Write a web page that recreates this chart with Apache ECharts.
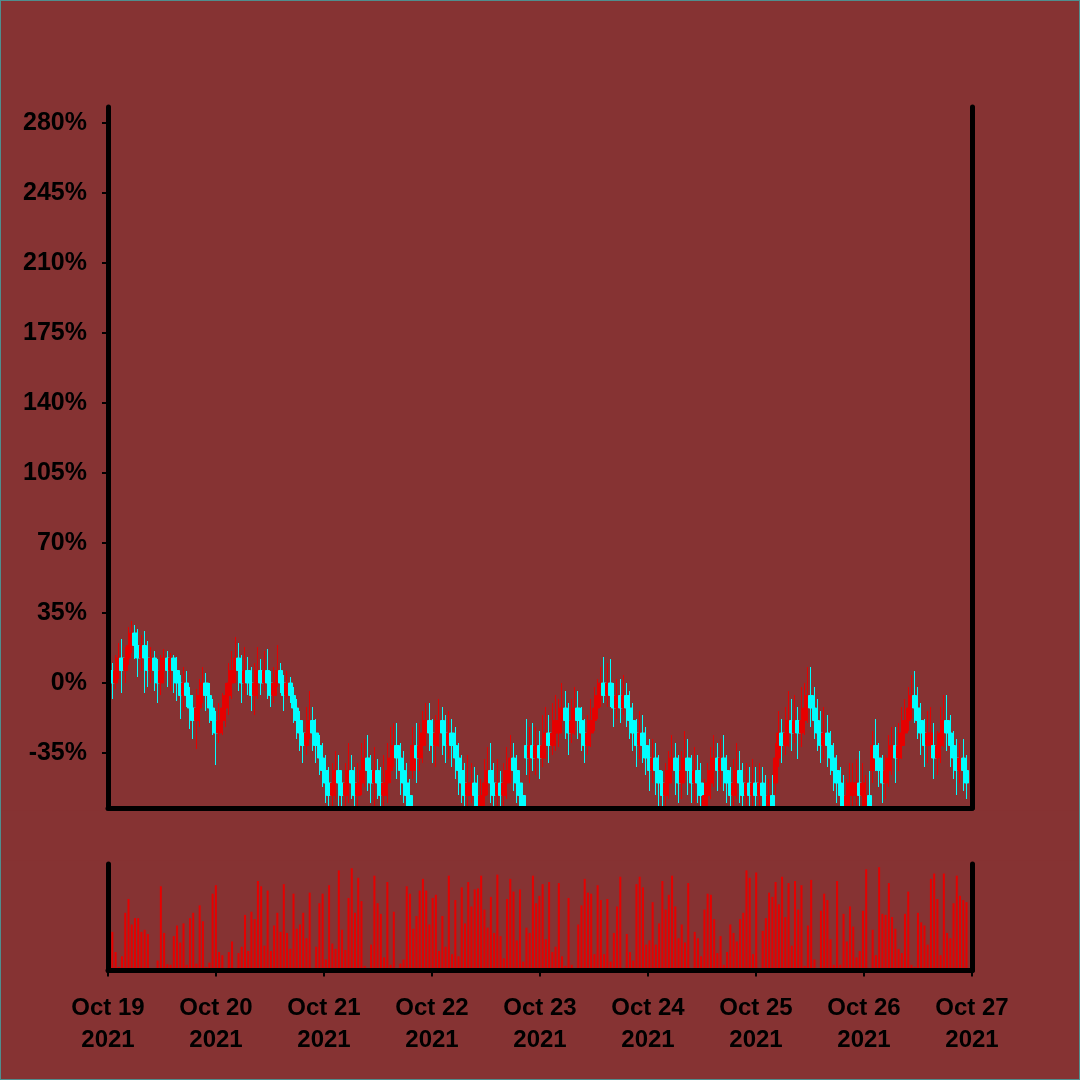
<!DOCTYPE html>
<html><head><meta charset="utf-8">
<script src="https://cdn.jsdelivr.net/npm/echarts@6/dist/echarts.min.js"></script>
<style>html,body{margin:0;padding:0;background:#863333}#c{width:1080px;height:1080px}
#frame{position:absolute;left:0;top:0;width:1078px;height:1078px;border:1px solid #4f8e8e;pointer-events:none}</style>
</head><body><div id="c"></div><div id="frame"></div>
<script>
// ---- data ----
const dayLabels = ['Oct 19','Oct 20','Oct 21','Oct 22','Oct 23','Oct 24','Oct 25','Oct 26','Oct 27'];
const yearLabel = '2021';
const yTickValues = [-35, 0, 35, 70, 105, 140, 175, 210, 245, 280];
const startHour = 0.96;   // first candle, hours after Oct 19 00:00
const stepHour = 0.719;   // candle spacing in hours

const open = [
6.25,0,6.25,12.5,6.25,12.5,18.75,25,18.75,12.5,
18.75,12.5,6.25,12.5,6.25,0,6.25,12.5,6.25,12.5,
6.25,0,-6.25,0,-6.25,-12.5,-18.75,-12.5,-6.25,0,
-6.25,-12.5,-18.75,-25,-18.75,-12.5,-6.25,0,6.25,12.5,
6.25,0,6.25,0,-6.25,0,6.25,0,6.25,0,
-6.25,0,6.25,0,-6.25,0,-6.25,-12.5,-18.75,-25,
-31.25,-25,-18.75,-25,-31.25,-37.5,-43.75,-50,-56.25,-50,
-43.75,-50,-56.25,-50,-43.75,-50,-56.25,-50,-43.75,-37.5,
-43.75,-50,-43.75,-50,-56.25,-50,-43.75,-37.5,-31.25,-37.5,
-43.75,-50,-56.25,-43.75,-31.25,-37.5,-31.25,-25,-18.75,-25,
-31.25,-25,-18.75,-25,-31.25,-25,-31.25,-37.5,-43.75,-50,
-56.25,-56.25,-50,-56.25,-62.5,-56.25,-50,-43.75,-50,-56.25,
-50,-56.25,-50,-43.75,-37.5,-43.75,-50,-56.25,-31.25,-37.5,
-31.25,-37.5,-31.25,-37.5,-31.25,-25,-31.25,-25,-25,-18.75,
-12.5,-18.75,-25,-18.75,-12.5,-18.75,-25,-31.25,-25,-18.75,
-12.5,-6.25,0,-6.25,0,-6.25,-12.5,-6.25,-12.5,-6.25,
-12.5,-18.75,-25,-31.25,-25,-31.25,-37.5,-43.75,-37.5,-43.75,
-50,-56.25,-50,-43.75,-37.5,-43.75,-50,-43.75,-37.5,-43.75,
-50,-43.75,-50,-62.5,-56.25,-50,-43.75,-37.5,-43.75,-37.5,
-43.75,-50,-56.25,-50,-43.75,-50,-56.25,-50,-56.25,-50,
-56.25,-50,-56.25,-62.5,-56.25,-50,-37.5,-25,-31.25,-25,
-18.75,-25,-18.75,-25,-18.75,-12.5,-6.25,-12.5,-18.75,-25,
-31.25,-25,-31.25,-37.5,-43.75,-50,-56.25,-62.5,-56.25,-56.25,
-56.25,-50,-56.25,-62.5,-56.25,-43.75,-31.25,-37.5,-43.75,-50,
-43.75,-37.5,-31.25,-37.5,-31.25,-25,-18.75,-12.5,-6.25,-12.5,
-18.75,-25,-31.25,-31.25,-31.25,-37.5,-31.25,-25,-18.75,-25,
-31.25,-37.5,-43.75,-37.5,-43.75
];
const close = [
0,6.25,12.5,6.25,12.5,18.75,25,18.75,12.5,18.75,
12.5,6.25,12.5,6.25,0,6.25,12.5,6.25,12.5,6.25,
0,-6.25,0,-6.25,-12.5,-18.75,-12.5,-6.25,0,-6.25,
-12.5,-18.75,-25,-18.75,-12.5,-6.25,0,6.25,12.5,6.25,
0,6.25,0,-6.25,0,6.25,0,6.25,0,-6.25,
0,6.25,0,-6.25,0,-6.25,-12.5,-18.75,-25,-31.25,
-25,-18.75,-25,-31.25,-37.5,-43.75,-50,-56.25,-50,-43.75,
-50,-56.25,-50,-43.75,-50,-56.25,-50,-43.75,-37.5,-43.75,
-50,-43.75,-50,-56.25,-50,-43.75,-37.5,-31.25,-37.5,-43.75,
-50,-56.25,-62.5,-31.25,-37.5,-31.25,-25,-18.75,-25,-31.25,
-25,-18.75,-25,-31.25,-25,-31.25,-37.5,-43.75,-50,-56.25,
-50,-50,-56.25,-62.5,-56.25,-50,-43.75,-50,-56.25,-50,
-56.25,-50,-43.75,-37.5,-43.75,-50,-56.25,-62.5,-37.5,-31.25,
-37.5,-31.25,-37.5,-31.25,-25,-31.25,-25,-18.75,-18.75,-12.5,
-18.75,-25,-18.75,-12.5,-18.75,-25,-31.25,-25,-18.75,-12.5,
-6.25,0,-6.25,0,-6.25,-12.5,-6.25,-12.5,-6.25,-12.5,
-18.75,-25,-31.25,-25,-31.25,-37.5,-43.75,-37.5,-43.75,-50,
-56.25,-50,-43.75,-37.5,-43.75,-50,-43.75,-37.5,-43.75,-50,
-43.75,-50,-56.25,-56.25,-50,-43.75,-37.5,-43.75,-37.5,-43.75,
-50,-56.25,-50,-43.75,-50,-56.25,-50,-56.25,-50,-56.25,
-50,-56.25,-62.5,-56.25,-62.5,-37.5,-25,-31.25,-25,-18.75,
-25,-18.75,-25,-18.75,-12.5,-6.25,-12.5,-18.75,-25,-31.25,
-25,-31.25,-37.5,-43.75,-50,-56.25,-62.5,-56.25,-50,-50,
-50,-56.25,-50,-56.25,-62.5,-31.25,-37.5,-43.75,-50,-43.75,
-37.5,-31.25,-37.5,-31.25,-25,-18.75,-12.5,-6.25,-12.5,-18.75,
-25,-31.25,-25,-25,-37.5,-31.25,-25,-18.75,-25,-31.25,
-37.5,-43.75,-37.5,-43.75,-50
];
const low = [
-8,-3,2,-5,0,9,15,12,3,6,
-5,-2,0,-4,-10,-6,2,-2,-4,-5,
-9,-18,-14,-12,-23,-28,-33,-22,-10,-14,
-20,-26,-41,-30,-26,-22,-16,-8,0,-4,
-10,-6,-6,-14,-16,-8,-6,-4,-8,-12,
-10,-2,-5,-14,-8,-10,-20,-28,-34,-40,
-36,-28,-34,-40,-46,-52,-60,-66,-64,-58,
-62,-70,-66,-60,-58,-66,-68,-56,-52,-54,
-60,-62,-58,-66,-64,-60,-50,-42,-48,-56,
-60,-66,-70,-48,-50,-44,-40,-30,-34,-40,
-42,-32,-36,-40,-38,-42,-48,-56,-60,-66,
-64,-60,-66,-70,-70,-64,-56,-60,-66,-64,
-68,-62,-58,-50,-54,-60,-68,-70,-46,-50,
-44,-46,-48,-42,-38,-40,-36,-34,-32,-24,
-28,-36,-30,-26,-28,-34,-40,-36,-32,-24,
-18,-12,-10,-12,-12,-22,-18,-20,-16,-22,
-28,-34,-42,-38,-40,-46,-54,-50,-56,-62,
-66,-64,-58,-50,-56,-60,-58,-50,-56,-60,
-60,-60,-66,-70,-66,-58,-52,-54,-52,-54,
-60,-66,-64,-58,-60,-66,-62,-68,-64,-66,
-62,-66,-70,-70,-70,-56,-42,-40,-36,-32,
-34,-30,-38,-32,-26,-20,-22,-28,-34,-40,
-38,-42,-46,-54,-60,-66,-70,-70,-64,-66,
-62,-64,-66,-70,-70,-50,-44,-52,-60,-58,
-52,-46,-50,-44,-38,-30,-24,-18,-20,-28,
-36,-42,-40,-38,-48,-46,-40,-32,-34,-42,
-48,-56,-50,-54,-58
];
const high = [
10,14,20,22,18,28,31,29,27,24,
26,21,18,16,12,14,17,16,15,14,
13,4,8,6,-2,-6,-3,2,8,5,
0,-8,-14,-10,-5,0,10,16,23,20,
14,18,13,8,10,18,12,16,17,6,
8,19,10,4,6,3,-2,-8,-14,-20,
-12,-4,-12,-18,-26,-30,-36,-42,-40,-34,
-36,-44,-40,-30,-36,-42,-40,-30,-28,-26,
-36,-32,-38,-42,-36,-30,-22,-20,-20,-30,
-34,-40,-48,-22,-20,-20,-14,-10,-10,-18,
-16,-8,-12,-16,-14,-18,-22,-30,-36,-40,
-36,-40,-42,-46,-48,-38,-32,-30,-40,-38,
-44,-40,-32,-26,-30,-36,-44,-50,-18,-22,
-20,-22,-24,-16,-12,-16,-10,-6,-8,0,
-4,-10,-8,-2,-4,-12,-18,-16,-8,-2,
2,8,13,10,12,0,2,2,4,0,
-4,-10,-18,-14,-16,-22,-28,-28,-30,-36,
-44,-40,-34,-26,-30,-36,-34,-24,-28,-36,
-32,-36,-40,-48,-40,-32,-26,-30,-28,-26,
-36,-42,-38,-30,-34,-40,-40,-42,-38,-42,
-40,-42,-46,-48,-46,-30,-14,-18,-12,-4,
-8,-6,-12,-2,0,8,8,-2,-8,-14,
-12,-16,-24,-30,-36,-42,-46,-48,-40,-40,
-38,-34,-40,-46,-44,-24,-18,-30,-36,-36,
-26,-22,-22,-20,-12,-8,-2,4,6,-2,
-10,-18,-14,-12,-20,-24,-12,-6,-6,-16,
-24,-28,-30,-28,-36
];
const volume = [
34,15,1,11,52,65,41,47,47,34,
36,32,0,0,7,77,33,3.5,3,30,
40,24,42,3,47,52,4,59,44,1,
5,70,78,15,12,0,15,25,0,14,
20,50,16,53,46,82,77,21,73,16,
40,52,34,79,33,18,70,37,41,52,
28,71,0,20,61,70,8,78,23,18,
92,36,17,66,94,52,85,63,2,0,
22,87,61,51,10,81,3,53,0,4,
8,77,70,37,49,73,84,73,41,66,
69,16,49,20,87,13,64,11,76,42,
81,58,74,75,87,55,38,67,33,88,
30,9,65,84,72,26,74,6,38,33,
87,61,68,79,27,81,15,20,80,11,
2,66,3,0,41,59,84,71,70,13,
78,64,13,65,6,33,58,86,0,32,
15,7,79,86,76,22,26,62,22,42,
82,55,69,87,58,28,41,24,80,0,
34,28,11,55,70,69,46,14,30,3,
15,41,33,25,46,52,92,85,13,90,
0,35,47,71,67,81,60,86,48,80,
21,82,55,78,2,40,83,8,0,54,
70,64,27,3,82,3,51,25,58,39,
10,16,54,93,0,36,12,95,51,50,
80,48,37,18,14,51,72,3,1,52,
43,40,22,84,89,65,12,89,33,28,
61,87,68,64,62
];

// ---- build ----
const xOf = i => startHour + i * stepHour;
const candleData = open.map((o, i) => [xOf(i), o, close[i], low[i], high[i]]);
const volData = volume.map((v, i) => [xOf(i), v]);

const BG = '#863333';
const AX = {color: '#000', width: 5, cap: 'round'};
const FONT = 'Liberation Sans, Arial, Helvetica, sans-serif';
const RED = '#e60000', CYAN = '#00ffff';

const chart = echarts.init(document.getElementById('c'), null, {renderer: 'canvas'});
chart.setOption({
  backgroundColor: BG,
  animation: false,
  grid: [
    {left: 108, right: 108, top: 107, height: 701},
    {left: 108, right: 108, top: 864, height: 106.5}
  ],
  // hides the part of the wicks that runs below the price panel (clip area)
  graphic: [{type: 'rect', z: 4, silent: true,
    shape: {x: 0, y: 810.5, width: 1080, height: 50}, style: {fill: BG}}],
  xAxis: [
    {type: 'value', gridIndex: 0, min: 0, max: 192, interval: 24, z: 10,
     axisLine: {show: true, onZero: false, lineStyle: AX},
     axisTick: {show: false}, axisLabel: {show: false}, splitLine: {show: false}},
    {type: 'value', gridIndex: 1, min: 0, max: 192, interval: 24, z: 10,
     axisLine: {show: true, onZero: false, lineStyle: AX},
     axisTick: {show: true, length: 6, lineStyle: {color: '#000', width: 2}},
     axisLabel: {show: true, showMinLabel: true, showMaxLabel: true, hideOverlap: false,
       formatter: v => dayLabels[Math.round(v / 24)] + '\n' + yearLabel,
       color: '#000', fontWeight: 'bold', fontSize: 24, lineHeight: 32, fontFamily: FONT, margin: 22},
     splitLine: {show: false}}
  ],
  yAxis: [
    {type: 'value', gridIndex: 0, min: -62.5, max: 288, position: 'left', z: 10,
     axisLine: {show: true, onZero: false, lineStyle: AX},
     axisTick: {show: true, customValues: yTickValues, length: 6, lineStyle: {color: '#000', width: 2}},
     axisLabel: {show: true, customValues: yTickValues, formatter: '{value}%',
       color: '#000', fontWeight: 'bold', fontSize: 25, fontFamily: FONT, margin: 21},
     splitLine: {show: false}},
    {type: 'value', gridIndex: 0, min: -62.5, max: 288, position: 'right', z: 10,
     axisLine: {show: true, onZero: false, lineStyle: AX},
     axisTick: {show: false}, axisLabel: {show: false}, splitLine: {show: false}},
    {type: 'value', gridIndex: 1, min: -2.4, max: 98, position: 'left', z: 10,
     axisLine: {show: true, onZero: false, lineStyle: AX},
     axisTick: {show: false}, axisLabel: {show: false}, splitLine: {show: false}},
    {type: 'value', gridIndex: 1, min: -2.4, max: 98, position: 'right', z: 10,
     axisLine: {show: true, onZero: false, lineStyle: AX},
     axisTick: {show: false}, axisLabel: {show: false}, splitLine: {show: false}}
  ],
  series: [
    {type: 'candlestick', xAxisIndex: 0, yAxisIndex: 0, data: candleData,
     encode: {x: 0, y: [1, 2, 3, 4]}, barWidth: 5, clip: true, z: 2,
     itemStyle: {color: RED, color0: CYAN, borderColor: RED, borderColor0: CYAN, borderWidth: 1}},
    {type: 'bar', xAxisIndex: 1, yAxisIndex: 2, data: volData, barWidth: 2, clip: true, z: 2,
     itemStyle: {color: RED}}
  ]
});
</script>
</body></html>
